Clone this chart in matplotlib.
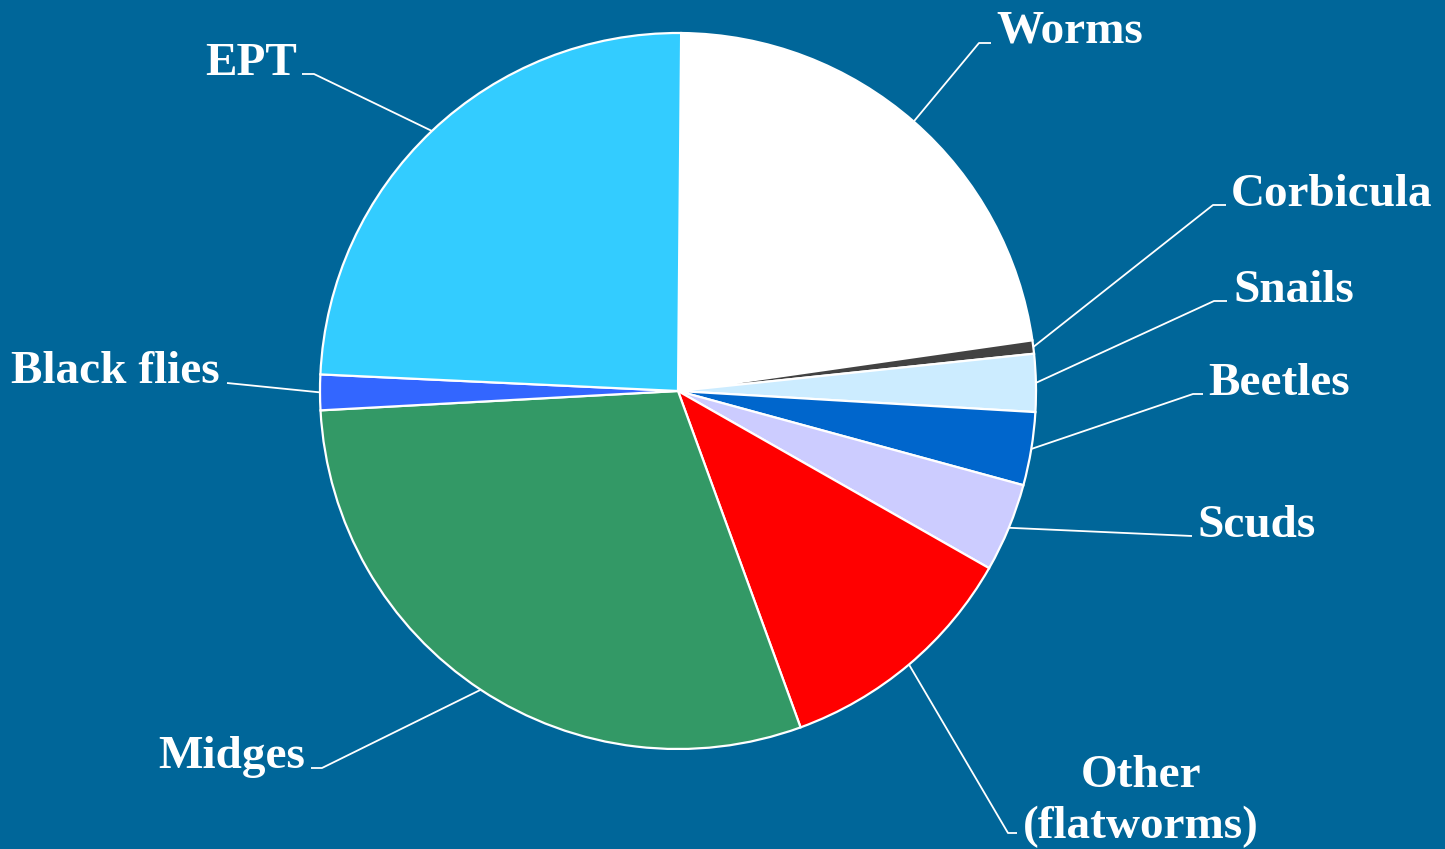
import matplotlib
matplotlib.use("Agg")
import matplotlib.pyplot as plt
import numpy as np

# ---- data ----
categories = ["Worms", "Corbicula", "Snails", "Beetles", "Scuds",
              "Other\n(flatworms)", "Midges", "Black flies", "EPT"]
values = [22.6, 0.6, 2.6, 3.3, 4.0, 11.2, 29.7, 1.6, 24.4]
colors = ["#FFFFFF", "#424242", "#CCECFF", "#0066CC", "#CCCCFF",
          "#FF0000", "#339966", "#3366FF", "#33CCFF"]

# ---- layout (pixel positions of elbows / label anchors) ----
W, H = 1445, 849
CX, CY, R = 678, 391, 358
# elbow point, end of horizontal segment, text anchor, alignment
layout = {
    "Worms":              ((979, 43), (991, 43), (996, 43), "left"),
    "Corbicula":          ((1213, 205), (1226, 205), (1231, 206), "left"),
    "Snails":             ((1214, 301), (1227, 301), (1233, 302), "left"),
    "Beetles":            ((1193, 394), (1203, 394), (1208, 395), "left"),
    "Scuds":              ((1192, 536), (1192, 536), (1197, 537), "left"),
    "Other\n(flatworms)": ((1008, 833), (1017, 833), (1141, 838), "center"),
    "Midges":             ((322, 768), (311, 768), (305, 768), "right"),
    "Black flies":        ((227, 383), (227, 383), (220, 383), "right"),
    "EPT":                ((314, 74), (302, 74), (297, 75), "right"),
}

def px2d(p):
    return ((p[0] - CX) / R, (CY - p[1]) / R)

bg = "#006699"
fig = plt.figure(figsize=(W / 100, H / 100), dpi=100, facecolor=bg)
ax = fig.add_axes([0, 0, 1, 1])
ax.set_facecolor(bg)

wedges, _ = ax.pie(values, colors=colors, startangle=89.5, counterclock=False,
                   radius=1, center=(0, 0), frame=True,
                   wedgeprops=dict(edgecolor="white", linewidth=1.6))
ax.set_xlim(-CX / R, (W - CX) / R)
ax.set_ylim((CY - H) / R, CY / R)
ax.set_aspect("equal")
ax.axis("off")

for w, name in zip(wedges, categories):
    mid = np.deg2rad((w.theta1 + w.theta2) / 2)
    x0, y0 = np.cos(mid), np.sin(mid)
    elbow, hend, tpos, ha = layout[name]
    ex, ey = px2d(elbow)
    hx, hy = px2d(hend)
    ax.plot([x0, ex, hx], [y0, ey, hy], color="white", lw=1.3,
            solid_capstyle="butt", zorder=3)
    tx, ty = px2d(tpos)
    ax.text(tx, ty, name, ha=ha, va="baseline", color="white",
            fontsize=34, fontweight="bold", family="Liberation Serif",
            linespacing=1.27, multialignment="center")

fig.savefig("out.png", dpi=100, facecolor=bg)
